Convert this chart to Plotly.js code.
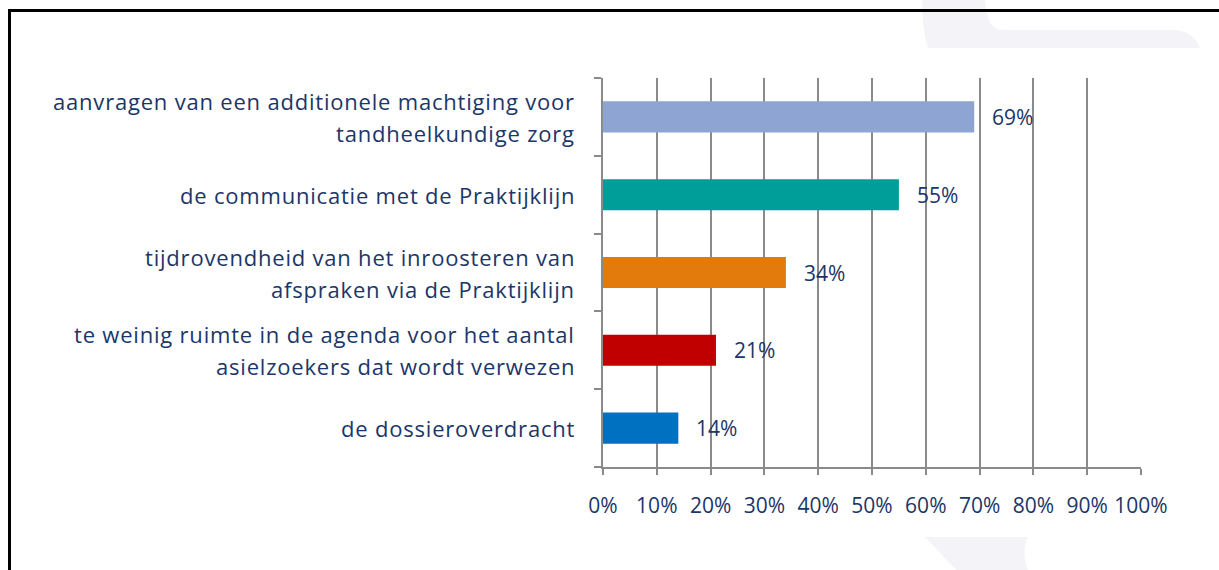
<!DOCTYPE html>
<html>
<head>
<meta charset="utf-8">
<script src="https://cdn.plot.ly/plotly-3.0.1.min.js"></script>
<style>
  html, body { margin: 0; padding: 0; background: #ffffff; }
  #wrap { position: relative; width: 1219px; height: 570px; overflow: hidden; }
  #chart { position: absolute; left: 0; top: 0; width: 1219px; height: 570px; }
  #frame { position: absolute; left: 8px; top: 9px; width: 1300px; height: 700px;
           border-top: 3px solid #000; border-left: 3px solid #000; pointer-events: none; }
</style>
</head>
<body>
<div id="wrap">
  <div id="chart"></div>
  <div id="frame"></div>
</div>
<script>
// ---- data (top to bottom as shown) ----
const categories = [
  ["aanvragen van een additionele machtiging voor", "tandheelkundige zorg"],
  ["de communicatie met de Praktijklijn"],
  ["tijdrovendheid van het inroosteren van", "afspraken via de Praktijklijn"],
  ["te weinig ruimte in de agenda voor het aantal", "asielzoekers dat wordt verwezen"],
  ["de dossieroverdracht"]
];
const values = [0.69, 0.55, 0.34, 0.21, 0.14];
const valueLabels = ["69%", "55%", "34%", "21%", "14%"];
const barColors = ["#8EA5D3", "#009E98", "#E27B0C", "#C00000", "#0070C0"];
const xTickVals = [0, 0.1, 0.2, 0.3, 0.4, 0.5, 0.6, 0.7, 0.8, 0.9, 1.0];
const xTickText = ["0%", "10%", "20%", "30%", "40%", "50%", "60%", "70%", "80%", "90%", "100%"];

// ---- layout geometry ----
const W = 1219, H = 570;
const M = { l: 603, r: 78, t: 78, b: 103 };
const PW = W - M.l - M.r, PH = H - M.t - M.b;
const px = x => (x - M.l) / PW;
const py = y => (H - M.b - y) / PH;
function path(pts) {
  return pts.map(p => {
    const c = p[0];
    if (c === 'Z') return 'Z';
    const coords = [];
    for (let i = 1; i < p.length; i += 2) coords.push(px(p[i]).toFixed(5) + ',' + py(p[i + 1]).toFixed(5));
    return c + ' ' + coords.join(' ');
  }).join(' ');
}

const textColor = "#1B3668";
const font = "'Open Sans', 'Noto Sans', sans-serif";
const n = values.length;
const yPos = values.map((v, i) => n - 1 - i);

const trace = {
  type: 'bar',
  orientation: 'h',
  x: values,
  y: yPos,
  marker: { color: barColors },
  width: 0.4,
  hoverinfo: 'skip'
};

const annotations = [];
categories.forEach((lines, i) => {
  const k = lines.length;
  const lh = 32;
  lines.forEach((ln, j) => {
    annotations.push({
      xref: 'paper', yref: 'y', x: 0, y: yPos[i],
      xanchor: 'right', yanchor: 'middle',
      xshift: -26, yshift: ((k - 1) / 2 - j) * lh,
      text: '<span style="letter-spacing:0.8px">' + ln + '</span>', showarrow: false, align: 'right',
      font: { family: font, size: 22, color: textColor }
    });
  });
});
values.forEach((v, i) => {
  annotations.push({
    xref: 'x', yref: 'y', x: v, y: yPos[i],
    xanchor: 'left', yanchor: 'middle', xshift: 16, yshift: 0,
    text: valueLabels[i], showarrow: false,
    font: { family: font, size: 21, color: textColor }
  });
});

const shapes = [
  { type: 'path', xref: 'paper', yref: 'paper', layer: 'below', line: { width: 0 }, fillcolor: '#F3F3F8',
    path: path([['M', 922, -5], ['L', 985, -5], ['Q', 985, 30, 1003, 30], ['L', 1172, 30], ['Q', 1193, 30, 1200, 48], ['L', 928, 48], ['Q', 922, 30, 922, -5], ['Z']]) },
  { type: 'path', xref: 'paper', yref: 'paper', layer: 'below', line: { width: 0 }, fillcolor: '#F3F3F8',
    path: path([['M', 925, 537], ['L', 1028, 537], ['Q', 1020, 553, 1030, 575], ['L', 961, 575], ['Z']]) }
];

const layout = {
  width: W, height: H,
  margin: M,
  paper_bgcolor: 'rgba(0,0,0,0)',
  plot_bgcolor: 'rgba(0,0,0,0)',
  showlegend: false,
  bargap: 0.6,
  xaxis: {
    range: [0, 1],
    tickvals: xTickVals, ticktext: xTickText,
    showgrid: true, gridcolor: '#8A8A8A', gridwidth: 2,
    showline: true, linecolor: '#8A8A8A', linewidth: 2,
    ticks: 'outside', ticklen: 6, tickwidth: 2, tickcolor: '#8A8A8A',
    ticklabelstandoff: 13,
    tickfont: { family: font, size: 21, color: textColor },
    zeroline: false, fixedrange: true
  },
  yaxis: {
    range: [-0.5, n - 0.5],
    tickvals: Array.from({ length: n + 1 }, (_, i) => i - 0.5),
    showticklabels: false,
    showgrid: false, zeroline: false,
    showline: true, linecolor: '#8A8A8A', linewidth: 2,
    ticks: 'outside', ticklen: 7, tickwidth: 2, tickcolor: '#8A8A8A',
    fixedrange: true
  },
  annotations: annotations,
  shapes: shapes
};

Plotly.newPlot('chart', [trace], layout, { displayModeBar: false, staticPlot: true });
</script>
</body>
</html>
